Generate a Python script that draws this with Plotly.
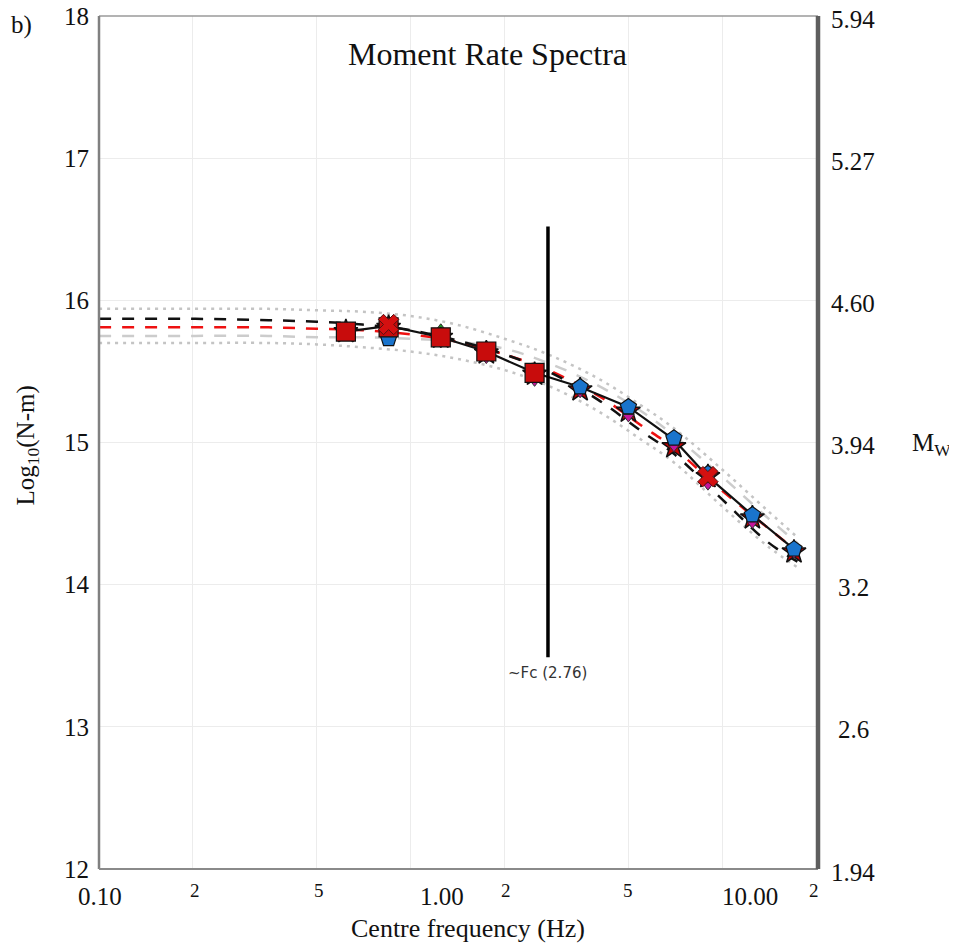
import numpy as np
import plotly.graph_objects as go

# ---------------- data ----------------
freq = [0.62, 0.85, 1.25, 1.75, 2.5, 3.5, 5.0, 7.0, 9.0, 12.5, 17.0]
mean_obs = [15.78, 15.82, 15.74, 15.64, 15.49, 15.39, 15.25, 15.02, 14.76, 14.49, 14.25]

sq_f = [0.62, 0.85, 1.25, 1.75, 2.5]
sq_v = [15.78, 15.81, 15.74, 15.64, 15.49]

pent_f = [0.85, 1.25, 1.75, 2.5, 3.5, 5.0, 7.0, 9.0, 12.5, 17.0]
pent_v = [15.73, 15.75, 15.65, 15.50, 15.39, 15.25, 15.03, 14.78, 14.49, 14.25]

x_f = [0.85, 9.0]
x_v = [15.83, 14.76]

star_v = [15.78, 15.81, 15.74, 15.63, 15.48, 15.37, 15.22, 14.97, 14.76, 14.47, 14.23]
tdown_v = [15.76, 15.79, 15.70, 15.59, 15.43, 15.35, 15.18, 14.97, 14.70, 14.43, 14.22]
tup_v = [15.80, 15.82, 15.80, 15.66, 15.50, 15.40, 15.22, 15.02, 14.77, 14.50, 14.25]

model_f = [0.1, 0.2, 0.35, 0.5, 0.7, 1.0, 1.4, 2.0, 2.76, 4.0, 5.5, 7.0, 10.0, 14.0, 17.5]
model_black = [15.87, 15.87, 15.86, 15.85, 15.83, 15.79, 15.72, 15.62, 15.50, 15.30, 15.08, 14.92, 14.60, 14.30, 14.16]
model_red = [15.81, 15.81, 15.81, 15.80, 15.79, 15.76, 15.71, 15.62, 15.51, 15.33, 15.12, 14.96, 14.66, 14.40, 14.23]
model_gray = [15.75, 15.75, 15.75, 15.74, 15.74, 15.73, 15.71, 15.66, 15.56, 15.40, 15.22, 15.05, 14.76, 14.47, 14.29]
band_upper = [15.94, 15.94, 15.94, 15.93, 15.92, 15.89, 15.83, 15.73, 15.62, 15.45, 15.26, 15.10, 14.81, 14.52, 14.33]
band_lower = [15.70, 15.70, 15.70, 15.69, 15.67, 15.64, 15.59, 15.51, 15.40, 15.22, 15.02, 14.86, 14.55, 14.27, 14.12]

fc_value = 2.76
fc_span = [16.52, 13.49]

y_ticks = [12, 13, 14, 15, 16, 17, 18]
y_tick_text = ["12", "13", "14", "15", "16", "17", "18"]
mw_tick_text = ["1.94", "2.6", "3.2", "3.94", "4.60", "5.27", "5.94"]

x_grid = [0.2, 0.5, 1.0, 2.0, 5.0, 10.0]
x_major_f = [0.1, 1.0, 10.0]
x_major_text = ["0.10", "1.00", "10.00"]
x_major_shift = [1, 31, 28]
x_minor_f = [0.2, 0.5, 2.0, 5.0, 20.0]
x_minor_text = ["2", "5", "2", "5", "2"]
x_minor_shift = [2, 2, 2, 0, -2]

SERIF = "Liberation Serif, Times New Roman, serif"

fig = go.Figure()

# confidence band (dotted)
for band in (band_upper, band_lower):
    fig.add_trace(go.Scatter(x=model_f, y=band, mode="lines", line_shape="spline",
                             line=dict(color="#c4c4c4", width=2.5, dash="3px,5px"),
                             hoverinfo="skip", showlegend=False))
# model curves (dashed)
fig.add_trace(go.Scatter(x=model_f, y=model_gray, mode="lines", line_shape="spline",
                         line=dict(color="#cccccc", width=2.5, dash="12px,11px"),
                         showlegend=False))
fig.add_trace(go.Scatter(x=model_f, y=model_red, mode="lines", line_shape="spline",
                         line=dict(color="#ee1111", width=2.5, dash="12px,11px"),
                         showlegend=False))
fig.add_trace(go.Scatter(x=model_f, y=model_black, mode="lines", line_shape="spline",
                         line=dict(color="#111111", width=2.5, dash="12px,11px"),
                         showlegend=False))

# observed mean line
fig.add_trace(go.Scatter(x=freq, y=mean_obs, mode="lines",
                         line=dict(color="#111111", width=2.2), showlegend=False))

# markers
fig.add_trace(go.Scatter(x=freq, y=star_v, mode="markers",
                         marker=dict(symbol="star", size=18, color="#c40000",
                                     line=dict(color="#111111", width=1.5)),
                         showlegend=False))
fig.add_trace(go.Scatter(x=freq, y=tdown_v, mode="markers",
                         marker=dict(symbol="triangle-down", size=10, color="#c4169c",
                                     line=dict(color="#333333", width=1)),
                         showlegend=False))
fig.add_trace(go.Scatter(x=freq, y=tup_v, mode="markers",
                         marker=dict(symbol="triangle-up", size=10, color="#1f9a2a",
                                     line=dict(color="#333333", width=1)),
                         showlegend=False))
fig.add_trace(go.Scatter(x=pent_f, y=pent_v, mode="markers",
                         marker=dict(symbol="pentagon", size=17, color="#1a74cc",
                                     line=dict(color="#111111", width=1.2)),
                         showlegend=False))
fig.add_trace(go.Scatter(x=sq_f, y=sq_v, mode="markers",
                         marker=dict(symbol="square", size=19, color="#c80c0c",
                                     line=dict(color="#111111", width=1.2)),
                         showlegend=False))
fig.add_trace(go.Scatter(x=x_f, y=x_v, mode="markers",
                         marker=dict(symbol="x", size=18, color="#d41010",
                                     line=dict(color="#551111", width=1)),
                         showlegend=False))

# corner frequency line
fig.add_trace(go.Scatter(x=[fc_value, fc_value], y=fc_span, mode="lines",
                         line=dict(color="#000000", width=3.5), showlegend=False))

annotations = []
annotations.append(dict(x=np.log10(fc_value), y=fc_span[1], xref="x", yref="y",
                        text="~Fc (2.76)", showarrow=False, yanchor="top", yshift=-5,
                        font=dict(family="DejaVu Sans, sans-serif", size=15, color="#333333")))
# bottom tick labels
for f, t, s in zip(x_major_f, x_major_text, x_major_shift):
    annotations.append(dict(x=np.log10(f), y=0, xref="x", yref="paper", text=t,
                            showarrow=False, yanchor="top", yshift=-12, xshift=s,
                            font=dict(family=SERIF, size=25, color="#111111")))
for f, t, s in zip(x_minor_f, x_minor_text, x_minor_shift):
    annotations.append(dict(x=np.log10(f), y=0, xref="x", yref="paper", text=t,
                            showarrow=False, yanchor="top", yshift=-9, xshift=s,
                            font=dict(family=SERIF, size=19, color="#111111")))
# right Mw tick labels
for v, t in zip(y_ticks, mw_tick_text):
    annotations.append(dict(x=1.0, y=v, xref="paper", yref="y", text=t, showarrow=False,
                            xanchor="center", xshift=35, yshift=-3,
                            font=dict(family=SERIF, size=25, color="#111111")))
annotations += [
    dict(x=1.0, y=15.0, xref="paper", yref="y", text="M<sub>W</sub>", showarrow=False,
         xanchor="left", xshift=92, yshift=-2,
         font=dict(family=SERIF, size=25, color="#111111")),
    dict(x=0.0, y=15.0, xref="paper", yref="y", text="Log<sub>10</sub>(N-m)",
         showarrow=False, textangle=-90, xanchor="center", xshift=-72, yshift=-3,
         font=dict(family=SERIF, size=25, color="#111111")),
    dict(x=0.5, y=1.0, xref="paper", yref="paper", text="Moment Rate Spectra",
         showarrow=False, yanchor="middle", yshift=-38, xshift=29,
         font=dict(family=SERIF, size=32, color="#111111")),
    dict(x=0.0, y=1.0, xref="paper", yref="paper", text="b)", showarrow=False,
         xanchor="left", yanchor="middle", xshift=-90, yshift=-9,
         font=dict(family=SERIF, size=25, color="#111111")),
    dict(x=0.5, y=0.0, xref="paper", yref="paper", text="Centre frequency (Hz)",
         showarrow=False, yanchor="middle", yshift=-59, xshift=9,
         font=dict(family=SERIF, size=26, color="#111111")),
]

shapes = [
    dict(type="line", xref="paper", yref="paper", x0=0, x1=1, y0=1, y1=1,
         line=dict(color="#9a9a9a", width=1.5)),
    dict(type="line", xref="paper", yref="paper", x0=0, x1=0, y0=0, y1=1,
         line=dict(color="#808080", width=2.5)),
    dict(type="line", xref="paper", yref="paper", x0=0, x1=1, y0=0, y1=0,
         line=dict(color="#8a8a8a", width=2)),
    dict(type="line", xref="paper", yref="paper", x0=1, x1=1, y0=0, y1=1,
         line=dict(color="#5e5e5e", width=4.5)),
]

# page body has an 8px margin; figure is sized/offset to compensate
fig.update_layout(
    width=949, height=936,
    margin=dict(l=91, r=139, t=8, b=75, autoexpand=False),
    paper_bgcolor="white", plot_bgcolor="white",
    xaxis=dict(type="log", range=[-1, np.log10(20.3)], tickvals=x_grid,
               showticklabels=False, showgrid=True, gridcolor="#ececec", gridwidth=1,
               zeroline=False, showline=False, ticks="", automargin=False),
    yaxis=dict(range=[12, 18], tickvals=y_ticks, ticktext=y_tick_text,
               showgrid=True, gridcolor="#ececec", gridwidth=1, zeroline=False,
               showline=False, ticks="", ticklabelstandoff=9, automargin=False,
               ticklabeloverflow="allow",
               tickfont=dict(family=SERIF, size=25, color="#111111")),
    annotations=annotations, shapes=shapes,
)

fig.write_html("out.html")
